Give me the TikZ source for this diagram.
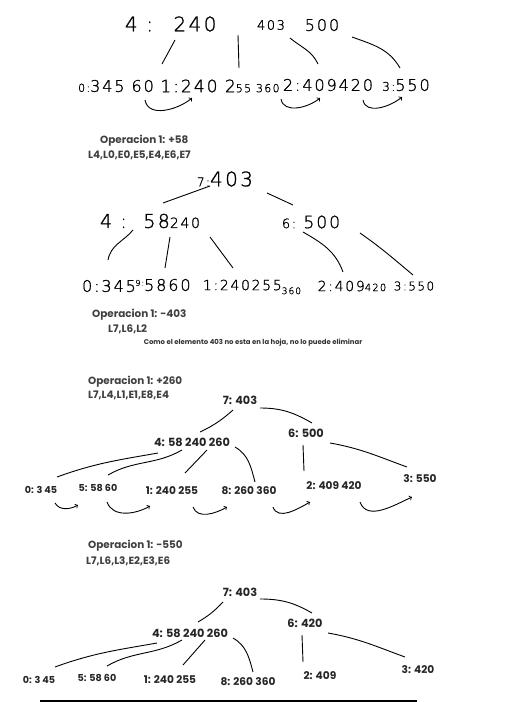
\documentclass[tikz,border=0pt]{standalone}
\usepackage{fontspec}
\setmainfont{Poppins}
\newfontfamily\keyfont{Poppins}
\newfontfamily\handfont{DejaVu Sans ExtraLight}[LetterSpace=12,FakeBold=1.2]
\usetikzlibrary{arrows}

\begin{document}
\begin{tikzpicture}[x=1pt,y=1pt,inner sep=0pt,
  hand/.style={font=\handfont\fontsize{#1}{#1}\selectfont},
  keynode/.style={font=\keyfont\bfseries\fontsize{11.3}{12}\selectfont,text=black!85},
  leafnode/.style={font=\keyfont\bfseries\fontsize{#1}{#1}\selectfont,text=black!85},
  opnote/.style={anchor=west,font=\keyfont\bfseries\fontsize{10.4}{11}\selectfont,text=black!75},
  ptr/.style={line width=0.9pt},
  chain/.style={->,line width=0.9pt}]
\fill[white] (0,0) rectangle (524,-702);
\useasboundingbox (0,0) rectangle (524,-702);

\node[hand=20] (k4a) at (139,-24) {4 :};
\node[hand=20] (k240a) at (195,-24) {240};
\node[hand=13] (k403a) at (271,-25) {403};
\node[hand=16] (k500a) at (322,-25) {500};
\node[hand=16] (l0a) at (116,-86) {{\fontsize{11}{11}\selectfont 0:}345 60};
\node[hand=17] (l1a) at (220,-86) {1:240 2{\fontsize{11}{11}\selectfont 55 360}};
\node[hand=16] (l2a) at (328,-85) {2:409420};
\node[hand=16] (l3a) at (406,-85) {{\fontsize{12}{12}\selectfont 3:}550};

\draw[ptr] ([shift={(-20,-16)}]k240a.center) -- ([shift={(46,22)}]l0a.center);
\draw[ptr] ([shift={(-33,-10)}]k403a.center) -- ([shift={(19,18)}]l1a.center);
\draw[ptr] ([shift={(19,-13)}]k403a.center) to[out=-40,in=115] ([shift={(-10,21)}]l2a.center);
\draw[ptr] ([shift={(30,-12)}]k500a.center) to[out=-20,in=120] ([shift={(-6,17)}]l3a.center);
\draw[chain] ([shift={(29,-14)}]l0a.center) to[out=-80,in=-140] ([shift={(-28,-12)}]l1a.center);
\draw[chain] ([shift={(61,-13)}]l1a.center) to[out=-80,in=-140] ([shift={(-8,-13)}]l2a.center);
\draw[chain] ([shift={(35,-15)}]l2a.center) to[out=-80,in=-140] ([shift={(-4,-12)}]l3a.center);

\node[opnote] (op1) at (100,-141) {Operacion 1: +58};
\node[opnote] (ls1) at (88,-155) {L4,L0,E0,E5,E4,E6,E7};
\node[hand=20] (r2) at (225,-179) {{\fontsize{12}{12}\selectfont 7:}403};
\node[hand=19] (a2) at (150,-221) {4 :\ \ 58{\fontsize{14}{14}\selectfont 240}};
\node[hand=17] (b2) at (311,-222) {{\fontsize{13}{13}\selectfont 6:}\ 500};
\node[hand=16] (l02) at (109,-286) {0:345};
\node[hand=16] (l92) at (163,-285) {\raisebox{5pt}{\fontsize{8}{8}\selectfont 9:}5860};
\node[hand=14] (l12) at (252,-287) {1:240255\raisebox{-4pt}{\fontsize{9}{9}\selectfont 360}};
\node[hand=14] (l22) at (352,-286) {2:409{\fontsize{10}{10}\selectfont 420}};
\node[hand=12] (l32) at (414,-286) {3:550};

\draw[ptr] ([shift={(-15,-7)}]r2.center) -- ([shift={(13,18)}]a2.center);
\draw[ptr] ([shift={(42,-14)}]r2.center) -- ([shift={(-18,17)}]b2.center);
\draw[ptr] ([shift={(-17,-9)}]a2.center) to[out=-130,in=80] ([shift={(-1,26)}]l02.center);
\draw[ptr] ([shift={(20,-16)}]a2.center) -- ([shift={(2,17)}]l92.center);
\draw[ptr] ([shift={(60,-16)}]a2.center) -- ([shift={(-19,19)}]l12.center);
\draw[ptr] ([shift={(-8,-10)}]b2.center) to[out=-30,in=110] ([shift={(-9,14)}]l22.center);
\draw[ptr] ([shift={(49,-11)}]b2.center) to[out=-35,in=140] ([shift={(-1,11)}]l32.center);

\node[opnote] (op2) at (92,-315) {Operacion 1: -403};
\node[opnote] (ls2) at (108,-329) {L7,L6,L2};
\node[font=\keyfont\bfseries\fontsize{6.9}{7}\selectfont,text=black!80] (msg) at (253,-343)
  {Como el elemento 403 no esta en la hoja, no lo puede eliminar};

\node[opnote] (op3) at (88,-382) {Operacion 1: +260};
\node[opnote] (ls3) at (88,-395) {L7,L4,L1,E1,E8,E4};
\node[keynode] (r4) at (240,-400) {7: 403};
\node[keynode] (a4) at (192,-442) {4: 58 240 260};
\node[keynode] (b4) at (306,-433) {6: 500};
\node[leafnode=9.6] (l40) at (41,-490) {0: 3 45};
\node[leafnode=9.6] (l45) at (98,-488) {5: 58 60};
\node[leafnode=10.6] (l41) at (172,-491) {1: 240 255};
\node[leafnode=10.6] (l48) at (249,-491) {8: 260 360};
\node[leafnode=10.6] (l42) at (334,-486) {2: 409 420};
\node[leafnode=10.6] (l43) at (420,-479) {3: 550};

\draw[ptr] ([shift={(-7,-10)}]r4.center) to[bend left=8] ([shift={(8,10)}]a4.center);
\draw[ptr] ([shift={(20,-8)}]r4.center) to[out=0,in=150] ([shift={(6,10)}]b4.center);
\draw[ptr] ([shift={(-34,-11)}]a4.center) to[out=190,in=20] ([shift={(16,13)}]l40.center);
\draw[ptr] ([shift={(-10,-8)}]a4.center) to[out=-150,in=30] ([shift={(10,13)}]l45.center);
\draw[ptr] ([shift={(15,-8)}]a4.center) -- ([shift={(13,18)}]l41.center);
\draw[ptr] ([shift={(43,-5)}]a4.center) to[out=-30,in=105] ([shift={(6,9)}]l48.center);
\draw[ptr] ([shift={(-3,-12)}]b4.center) -- ([shift={(-30,15)}]l42.center);
\draw[ptr] ([shift={(24,-10)}]b4.center) to[out=-10,in=160] ([shift={(-13,12)}]l43.center);
\draw[chain] ([shift={(14,-13)}]l40.center) to[out=-60,in=-150] ([shift={(-20,-17)}]l45.center);
\draw[chain] ([shift={(9,-14)}]l45.center) to[out=-70,in=-150] ([shift={(-22,-15)}]l41.center);
\draw[chain] ([shift={(21,-16)}]l41.center) to[out=-70,in=-150] ([shift={(-22,-16)}]l48.center);
\draw[chain] ([shift={(24,-16)}]l48.center) to[out=-70,in=-150] ([shift={(-24,-16)}]l42.center);
\draw[chain] ([shift={(26,-16)}]l42.center) to[out=-70,in=-155] ([shift={(-8,-18)}]l43.center);

\node[opnote] (op4) at (88,-546) {Operacion 1: -550};
\node[opnote] (ls4) at (86,-561) {L7,L6,L3,E2,E3,E6};
\node[keynode] (r5) at (240,-592) {7: 403};
\node[keynode] (a5) at (190,-633) {4: 58 240 260};
\node[keynode] (b5) at (305,-623) {6: 420};
\node[leafnode=9.6] (l50) at (39,-680) {0: 3 45};
\node[leafnode=9.6] (l55) at (97,-678) {5: 58 60};
\node[leafnode=10.6] (l51) at (170,-680) {1: 240 255};
\node[leafnode=10.6] (l58) at (248,-682) {8: 260 360};
\node[leafnode=10.6] (l52) at (320,-676) {2: 409};
\node[leafnode=10.6] (l53) at (418,-670) {3: 420};

\draw[ptr] ([shift={(-17,-10)}]r5.center) to[bend left=8] ([shift={(8,11)}]a5.center);
\draw[ptr] ([shift={(20,-7)}]r5.center) to[out=0,in=150] ([shift={(7,10)}]b5.center);
\draw[ptr] ([shift={(-33,-10)}]a5.center) to[out=190,in=20] ([shift={(16,13)}]l50.center);
\draw[ptr] ([shift={(-8,-7)}]a5.center) to[out=-150,in=30] ([shift={(10,12)}]l55.center);
\draw[ptr] ([shift={(15,-7)}]a5.center) -- ([shift={(13,15)}]l51.center);
\draw[ptr] ([shift={(43,-5)}]a5.center) to[out=-30,in=105] ([shift={(5,10)}]l58.center);
\draw[ptr] ([shift={(-3,-12)}]b5.center) -- ([shift={(-17,14)}]l52.center);
\draw[ptr] ([shift={(23,-10)}]b5.center) to[out=-10,in=160] ([shift={(-13,13)}]l53.center);

\draw[line width=2pt] (40,-701) -- (417,-701);
\end{tikzpicture}
\end{document}
